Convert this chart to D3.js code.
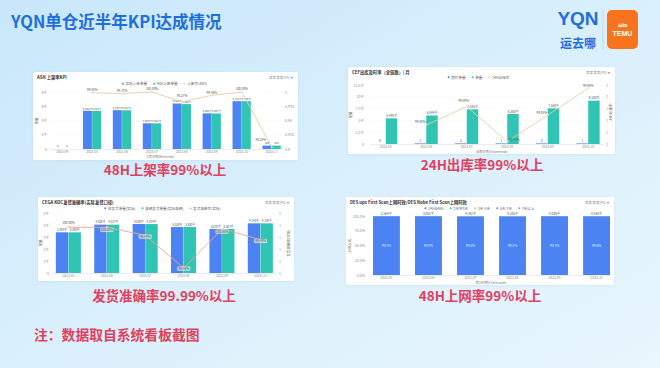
<!DOCTYPE html>
<html><head><meta charset="utf-8">
<script src="https://cdn.jsdelivr.net/npm/d3@7"></script>
<style>body{margin:0;background:#fff}svg{display:block;font-family:"Noto Sans CJK SC","Noto Sans",sans-serif}</style>
</head><body><svg id="c" width="660" height="368"></svg>
<script>
// ---------------- DATA ----------------
const slideTitle = "YQN单仓近半年KPI达成情况";
const captions = ["48H上架率99%以上","24H出库率99%以上","发货准确率99.99%以上","48H上网率99%以上"];
const note = "注：数据取自系统看板截图";

// Panel 1: 48H 上架率
const p1Title = "ASN 上架率KPI";
const p1Months = ["2023/04","2023/05","2023/06","2023/07","2023/08","2023/09","2023/10","2023/11"];
const p1Received = [0,5362,5447,3603,6380,5004,6712,480];
const p1Shelved  = [0,5344,5431,3601,6302,4987,6706,478];
const p1Rate     = [null,0.9988,0.9971,1.0,0.9827,0.9942,1.0,0.9035];
const p1LeftTicks  = [0,2000,4000,6000,8000];
const p1RightTicks = [0.9,0.925,0.95,0.975,1];
const p1Legend = ["实际入库单量","48H上架单量","上架率(48H)"];

// Panel 2: 24H 出库率
const p2Title = "CEF出库及时率（全链路）| 月";
const p2Months = ["2023/05","2023/06","2023/07","2023/08","2023/09","2023/10"];
const p2Overdue = [0,1,2,1,3,1];
const p2Shipped = [5440,6044,7343,6360,7560,9180];
const p2Rate    = [null,0.99797,0.9989,0.99712,0.99847,0.99983];
const p2LeftTicks  = [0,2500,5000,7500,10000,12500];
const p2RightTicks = [0.997,0.9976,0.9982,0.9988,0.9994,1.0];
const p2Legend = ["超时单量","单量","24H出库率"];

// Panel 3: 发货准确率
const p3Title = "CEGA KOC发货准确率(实际发货口径)";
const p3Months = ["2023/05","2023/06","2023/07","2023/08","2023/09","2023/10"];
const p3Orders  = [3390,4030,4080,3830,3670,4140];
const p3Correct = [3390,4027,4079,3830,3667,4139];
const p3Rate    = [0.999995,0.999995,0.999908,0.999554,0.999976,0.999861];
const p3LeftTicks  = [0,1000,2000,3000,4000,5000];
const p3RightTicks = [0.9995,0.99963,0.99976,0.99989,1.00002,1.00015];
const p3Legend = ["应发货单量(实际)","准确发货单量(实际准确)","发货准确率(实际)"];

// Panel 4: 48H 上网率
const p4Title = "DES ups First Scan上网时效/DES Nobe First Scan上网时效";
const p4Months = ["2023/05","2023/06","2023/07","2023/08","2023/09","2023/10"];
const p4Total  = [3564,3801,4792,4106,4806,4560];
const p4In48   = [0.997,0.997,0.995,0.995,0.997,0.996];
const p4D2to3  = [0.002,0.002,0.003,0.003,0.002,0.003];
const p4D3to5  = [0.0006,0.0006,0.0012,0.0012,0.0006,0.0006];
const p4D5to7  = [0.0003,0.0003,0.0005,0.0005,0.0003,0.0003];
const p4Over7  = [0.0001,0.0001,0.0003,0.0003,0.0001,0.0001];
const p4Ticks  = [0,0.25,0.5,0.75,1];
const p4Legend = ["24H&48H","2天到3天","3天-5天","5天-7天","7天以上"];

// ---------------- STYLE ----------------
const W=660,H=368;
const blue="#4b83f3", teal="#2fc4b4", tan="#e6cda4", salmon="#f3a58c";
const axisGrey="#8a8f99", labelGrey="#555";
const p4Colors=[blue,"#39c6b0","#f5c342","#7c8cf0","#e87d6a"];

const svg=d3.select("#c");
const defs=svg.append("defs");
const bg=defs.append("linearGradient").attr("id","bg").attr("x1","0").attr("y1","0").attr("x2","1").attr("y2","1");
bg.append("stop").attr("offset","0").attr("stop-color","#c9e7fb");
bg.append("stop").attr("offset","0.55").attr("stop-color","#dbf0fc");
bg.append("stop").attr("offset","1").attr("stop-color","#e8f6fd");
const f=defs.append("filter").attr("id","sh").attr("x","-5%").attr("y","-5%").attr("width","110%").attr("height","115%");
f.append("feDropShadow").attr("dx",0).attr("dy",0.5).attr("stdDeviation",1).attr("flood-color","#6a9cc8").attr("flood-opacity",0.18);
svg.append("rect").attr("width",W).attr("height",H).attr("fill","url(#bg)");

// title
svg.append("text").attr("x",11).attr("y",28).text(slideTitle)
  .attr("font-size",16.5).attr("font-weight",700).attr("fill","#1e6fdc");

// logo
const lg=svg.append("g");
lg.append("text").attr("x",578).attr("y",25).attr("text-anchor","middle").text("YQN")
  .attr("font-family","Liberation Sans, Arial, sans-serif").attr("font-size",19).attr("font-weight",700).attr("fill","#1e6fdc");
lg.append("text").attr("x",578).attr("y",48).attr("text-anchor","middle").text("运去哪")
  .attr("font-size",12).attr("font-weight",700).attr("fill","#1e6fdc");
lg.append("line").attr("x1",603).attr("x2",603).attr("y1",10).attr("y2",50).attr("stroke","#bcd3ea").attr("stroke-width",0.8);
lg.append("rect").attr("x",607).attr("y",10).attr("width",31).attr("height",39).attr("rx",5).attr("fill","#f8731c");
lg.append("text").attr("x",622.5).attr("y",27).attr("text-anchor","middle").text("ಹಿ⁄ɷ")
  .attr("font-size",6).attr("font-weight",700).attr("fill","#fff");
lg.append("text").attr("x",622.5).attr("y",36).attr("text-anchor","middle").text("TEMU")
  .attr("font-family","Liberation Sans, Arial, sans-serif").attr("font-size",7).attr("font-weight",700).attr("fill","#fff");

// captions
const capPos=[[165,175],[482,170],[164,301],[480,301]];
captions.forEach((c,i)=>svg.append("text").attr("x",capPos[i][0]).attr("y",capPos[i][1]).attr("text-anchor","middle")
  .text(c).attr("font-size",13.5).attr("font-weight",700).attr("fill","#e1405c"));
svg.append("text").attr("x",34).attr("y",340).text(note).attr("font-size",13.8).attr("font-weight",700).attr("fill","#e1405c");

// ---------------- helpers ----------------
const fmtK = v => v>=1000 ? (v/1000).toFixed(3)+"千" : String(v);
const fmtTickK = v => v===0 ? "0" : (v/1000)+"千";
const pct2 = d3.format(".2%");

function card(x,y,w,h){
  svg.append("rect").attr("x",x).attr("y",y).attr("width",w).attr("height",h).attr("rx",1.5)
    .attr("fill","#fff").attr("filter","url(#sh)");
}
function header(x,y,w,title){
  svg.append("text").attr("x",x+4).attr("y",y+6.5).text(title).attr("font-size",4.3).attr("font-weight",700).attr("fill","#333");
  svg.append("text").attr("x",x+w-5).attr("y",y+6.5).attr("text-anchor","end").text("某某某某(PS) ▾").attr("font-size",3.6).attr("fill","#888");
}
function legend(cx,y,items){
  const g=svg.append("g");
  let x=0;
  items.forEach(it=>{
    const ig=g.append("g").attr("transform",`translate(${x},0)`);
    if(it.type==="line"){
      ig.append("line").attr("x1",-1.6).attr("x2",1.6).attr("y1",-1.2).attr("y2",-1.2).attr("stroke",it.color).attr("stroke-width",0.8);
    } else {
      ig.append("circle").attr("cx",0).attr("cy",-1.2).attr("r",1).attr("fill",it.color);
    }
    const t=ig.append("text").attr("x",2.6).attr("y",0).text(it.label).attr("font-size",3.6).attr("fill","#666");
    x+=2.6+t.node().getComputedTextLength()+7;
  });
  const total=x-7;
  g.attr("transform",`translate(${cx-total/2},${y})`);
}
function styleAxis(a){
  a.attr("font-family",null).attr("font-size",null);
  a.select(".domain").remove();
  a.selectAll("text").attr("font-size",3.6).attr("fill",axisGrey);
}
function rotTitle(x,y,txt){
  svg.append("text").attr("transform",`translate(${x},${y}) rotate(-90)`).attr("text-anchor","middle")
    .text(txt).attr("font-size",3.6).attr("fill","#666");
}

function combo(o){
  card(...o.card);
  header(o.card[0],o.card[1],o.card[2],o.title);
  legend(o.legendX,o.legendY,o.legendItems);
  const x0=d3.scaleBand().domain(o.cats).range(o.xr).paddingInner(o.pi).paddingOuter(o.po);
  const x1=d3.scaleBand().domain(d3.range(o.bars.length)).range([0,x0.bandwidth()]);
  const y=d3.scaleLinear().domain(o.yDomain).range([o.bottom,o.top]);
  const yr=d3.scaleLinear().domain(o.rDomain).range([o.bottom,o.top]);
  svg.append("g").selectAll("line").data(o.leftTicks.slice(1)).join("line")
    .attr("x1",o.xr[0]).attr("x2",o.xr[1]).attr("y1",d=>y(d)).attr("y2",d=>y(d))
    .attr("stroke","#f1f2f4").attr("stroke-width",0.4);
  const la=svg.append("g").attr("transform",`translate(${o.leftAxisX},0)`)
    .call(d3.axisLeft(y).tickValues(o.leftTicks).tickFormat(fmtTickK).tickSize(0).tickPadding(0));
  styleAxis(la);
  const ra=svg.append("g").attr("transform",`translate(${o.rightAxisX},0)`)
    .call(d3.axisRight(yr).tickValues(o.rightTicks).tickFormat(o.rightFmt).tickSize(0).tickPadding(0));
  styleAxis(ra);
  const ba=svg.append("g").attr("transform",`translate(0,${o.bottom})`)
    .call(d3.axisBottom(x0).tickSize(0).tickPadding(1.8));
  ba.attr("font-family",null).attr("font-size",null);
  ba.select(".domain").attr("stroke","#d5d8dd").attr("stroke-width",0.5);
  ba.selectAll("text").attr("font-size",3.2).attr("fill",axisGrey);
  if(o.leftTitle) rotTitle(o.leftTitle[0],o.leftTitle[1],"单量");
  if(o.rightTitle) rotTitle(o.rightTitle[0],o.rightTitle[1],o.rightTitle[2]);
  if(o.xTitle) svg.append("text").attr("x",o.xTitle[0]).attr("y",o.xTitle[1]).attr("text-anchor","middle").text(o.xTitle[2]).attr("font-size",3.1).attr("fill","#777");
  o.bars.forEach((vals,si)=>{
    const bw=x1.bandwidth();
    svg.append("g").selectAll("rect").data(vals).join("rect")
      .attr("x",(d,i)=>x0(o.cats[i])+x1(si)).attr("width",bw-0.3)
      .attr("y",d=>Math.min(y(d),o.bottom-(o.minBar&&d>0?0.6:0))).attr("height",d=>Math.max(o.bottom-y(d),(o.minBar&&d>0)?0.6:0))
      .attr("fill",o.barColors[si]);
    svg.append("g").selectAll("text").data(vals).join("text")
      .attr("x",(d,i)=>x0(o.cats[i])+x1(si)+bw/2).attr("y",d=>Math.min(y(d),o.bottom-1)-1.2)
      .attr("text-anchor","middle").text(fmtK).attr("font-size",o.barLabelSize||3.1).attr("fill",labelGrey);
  });
  const cx=i=>x0(o.cats[i])+x0.bandwidth()/2;
  const pts=o.rate.map((v,i)=>({v,i})).filter(d=>d.v!=null);
  svg.append("path").datum(pts)
    .attr("d",d3.line().x(d=>cx(d.i)).y(d=>yr(d.v)))
    .attr("fill","none").attr("stroke",o.lineColor).attr("stroke-width",0.9);
  svg.append("g").selectAll("circle").data(pts).join("circle")
    .attr("cx",d=>cx(d.i)).attr("cy",d=>yr(d.v)).attr("r",0.8).attr("fill","#fff").attr("stroke",o.lineColor).attr("stroke-width",0.5);
  const lbl=svg.append("g").selectAll("g").data(pts).join("g")
    .attr("transform",d=>{
      const off=o.rateLabelOff[d.i];
      return `translate(${cx(d.i)+off[0]},${yr(d.v)+off[1]})`;
    });
  if(o.labelBox){
    lbl.append("rect").attr("x",-6.5).attr("y",-3).attr("width",13).attr("height",4.2).attr("rx",0.8)
      .attr("fill","#ffffff").attr("fill-opacity",0.6).attr("stroke","#ccc").attr("stroke-width",0.2);
  }
  lbl.append("text").attr("text-anchor","middle").text(d=>pct2(d.v)).attr("font-size",3.1).attr("fill",labelGrey);
}

// ---------------- PANEL 1 ----------------
combo({
  card:[33,72,265,88], title:p1Title, cats:p1Months,
  legendX:165, legendY:85,
  legendItems:[{label:p1Legend[0],color:blue},{label:p1Legend[1],color:teal},{label:p1Legend[2],color:tan,type:"line"}],
  xr:[50,284], pi:0.38, po:0.1, top:92, bottom:149,
  yDomain:[0,8000], leftTicks:p1LeftTicks, leftAxisX:47,
  rDomain:[0.9,1], rightTicks:p1RightTicks, rightFmt:d3.format(".3~f"), rightAxisX:285,
  bars:[p1Received,p1Shelved], barColors:[blue,teal], barLabelSize:2.7,
  rate:p1Rate, lineColor:tan,
  rateLabelOff:[null,[0,-1.8],[0,-1.8],[0,-1.8],[0,-5.2],[0,-1.8],[0,-1.8],[-11,-6]],
  leftTitle:[38,121], xTitle:[160,158,"入库日期(Receivedt)"]
});

// ---------------- PANEL 2 ----------------
combo({
  card:[348,67,267,87], title:p2Title, cats:p2Months,
  legendX:479, legendY:78.5,
  legendItems:[{label:p2Legend[0],color:blue},{label:p2Legend[1],color:teal},{label:p2Legend[2],color:tan,type:"line"}],
  xr:[370,604], pi:0.42, po:0.1, top:85, bottom:144,
  yDomain:[0,12500], leftTicks:p2LeftTicks, leftAxisX:364,
  rDomain:[0.997,1.0], rightTicks:p2RightTicks, rightFmt:d3.format(".0f"), rightAxisX:606,
  bars:[p2Overdue,p2Shipped], barColors:[blue,teal], minBar:true,
  rate:p2Rate, lineColor:tan,
  rateLabelOff:[null,[-6,-1.5],[-3,-5],[7,-1],[-6,-1.5],[0,-1.8]],
  leftTitle:[352,115], rightTitle:[611.5,112,"24H出库率"], xTitle:[492,152.5,"出库日期(Shipmentdt)"]
});

// ---------------- PANEL 3 ----------------
combo({
  card:[38,197,256,84], title:p3Title, cats:p3Months,
  legendX:163, legendY:209.5,
  legendItems:[{label:p3Legend[0],color:blue},{label:p3Legend[1],color:teal},{label:p3Legend[2],color:salmon,type:"line"}],
  xr:[52,277], pi:0.34, po:0.1, top:213, bottom:273,
  yDomain:[0,5000], leftTicks:p3LeftTicks, leftAxisX:49,
  rDomain:[0.9995,1.00015], rightTicks:p3RightTicks, rightFmt:d3.format(".3~f"), rightAxisX:279,
  bars:[p3Orders,p3Correct], barColors:[blue,teal], barLabelSize:2.9,
  rate:p3Rate, lineColor:salmon, labelBox:true,
  rateLabelOff:[[0,-3.2],[0,3.5],[0,2.2],[0,1.5],[0,3.5],[0,2.2]],
  leftTitle:[42,243], rightTitle:[290,243,"发货准确率(实际)"]
});

// ---------------- PANEL 4 ----------------
(function(){
  card(346,197,268,88);
  header(346,197,268,p4Title);
  legend(480,209.5,p4Legend.map((l,i)=>({label:l,color:p4Colors[i]})));
  const top=216,bottom=275;
  const x=d3.scaleBand().domain(p4Months).range([373,610]).paddingInner(0.36).paddingOuter(0);
  const y=d3.scaleLinear().domain([0,1]).range([bottom,top]);
  svg.append("g").selectAll("line").data(p4Ticks.slice(1)).join("line")
    .attr("x1",368).attr("x2",610).attr("y1",d=>y(d)).attr("y2",d=>y(d)).attr("stroke","#f1f2f4").attr("stroke-width",0.4);
  const la=svg.append("g").attr("transform","translate(365,0)")
    .call(d3.axisLeft(y).tickValues(p4Ticks).tickFormat(d3.format(".1%")).tickSize(0).tickPadding(0));
  styleAxis(la);
  const ba=svg.append("g").attr("transform",`translate(0,${bottom})`).call(d3.axisBottom(x).tickSize(0).tickPadding(1.8));
  ba.attr("font-family",null).attr("font-size",null);
  ba.select(".domain").attr("stroke","#d5d8dd").attr("stroke-width",0.5);
  ba.selectAll("text").attr("font-size",3.2).attr("fill",axisGrey);
  rotTitle(351,246,"上网占比");
  svg.append("text").attr("x",491).attr("y",284).attr("text-anchor","middle").text("首扫日期(FirstScandt)").attr("font-size",3.1).attr("fill","#777");
  const rows=p4Months.map((m,i)=>({m,a:p4In48[i],b:p4D2to3[i],c:p4D3to5[i],d:p4D5to7[i],e:p4Over7[i]}));
  const stack=d3.stack().keys(["a","b","c","d","e"])(rows);
  stack.forEach((layer,li)=>{
    svg.append("g").selectAll("rect").data(layer).join("rect")
      .attr("x",d=>x(d.data.m)).attr("width",x.bandwidth())
      .attr("y",d=>y(d[1])).attr("height",d=>y(d[0])-y(d[1]))
      .attr("fill",p4Colors[li]);
  });
  svg.append("g").selectAll("text").data(p4Total).join("text")
    .attr("x",(d,i)=>x(p4Months[i])+x.bandwidth()/2).attr("y",top-1.5).attr("text-anchor","middle")
    .text(fmtK).attr("font-size",3.2).attr("fill",labelGrey);
  svg.append("g").selectAll("text").data(p4In48).join("text")
    .attr("x",(d,i)=>x(p4Months[i])+x.bandwidth()/2).attr("y",d=>y(d/2)+1.2).attr("text-anchor","middle")
    .text(d3.format(".1%")).attr("font-size",3.2).attr("fill","#e8eefc");
})();
</script></body></html>
